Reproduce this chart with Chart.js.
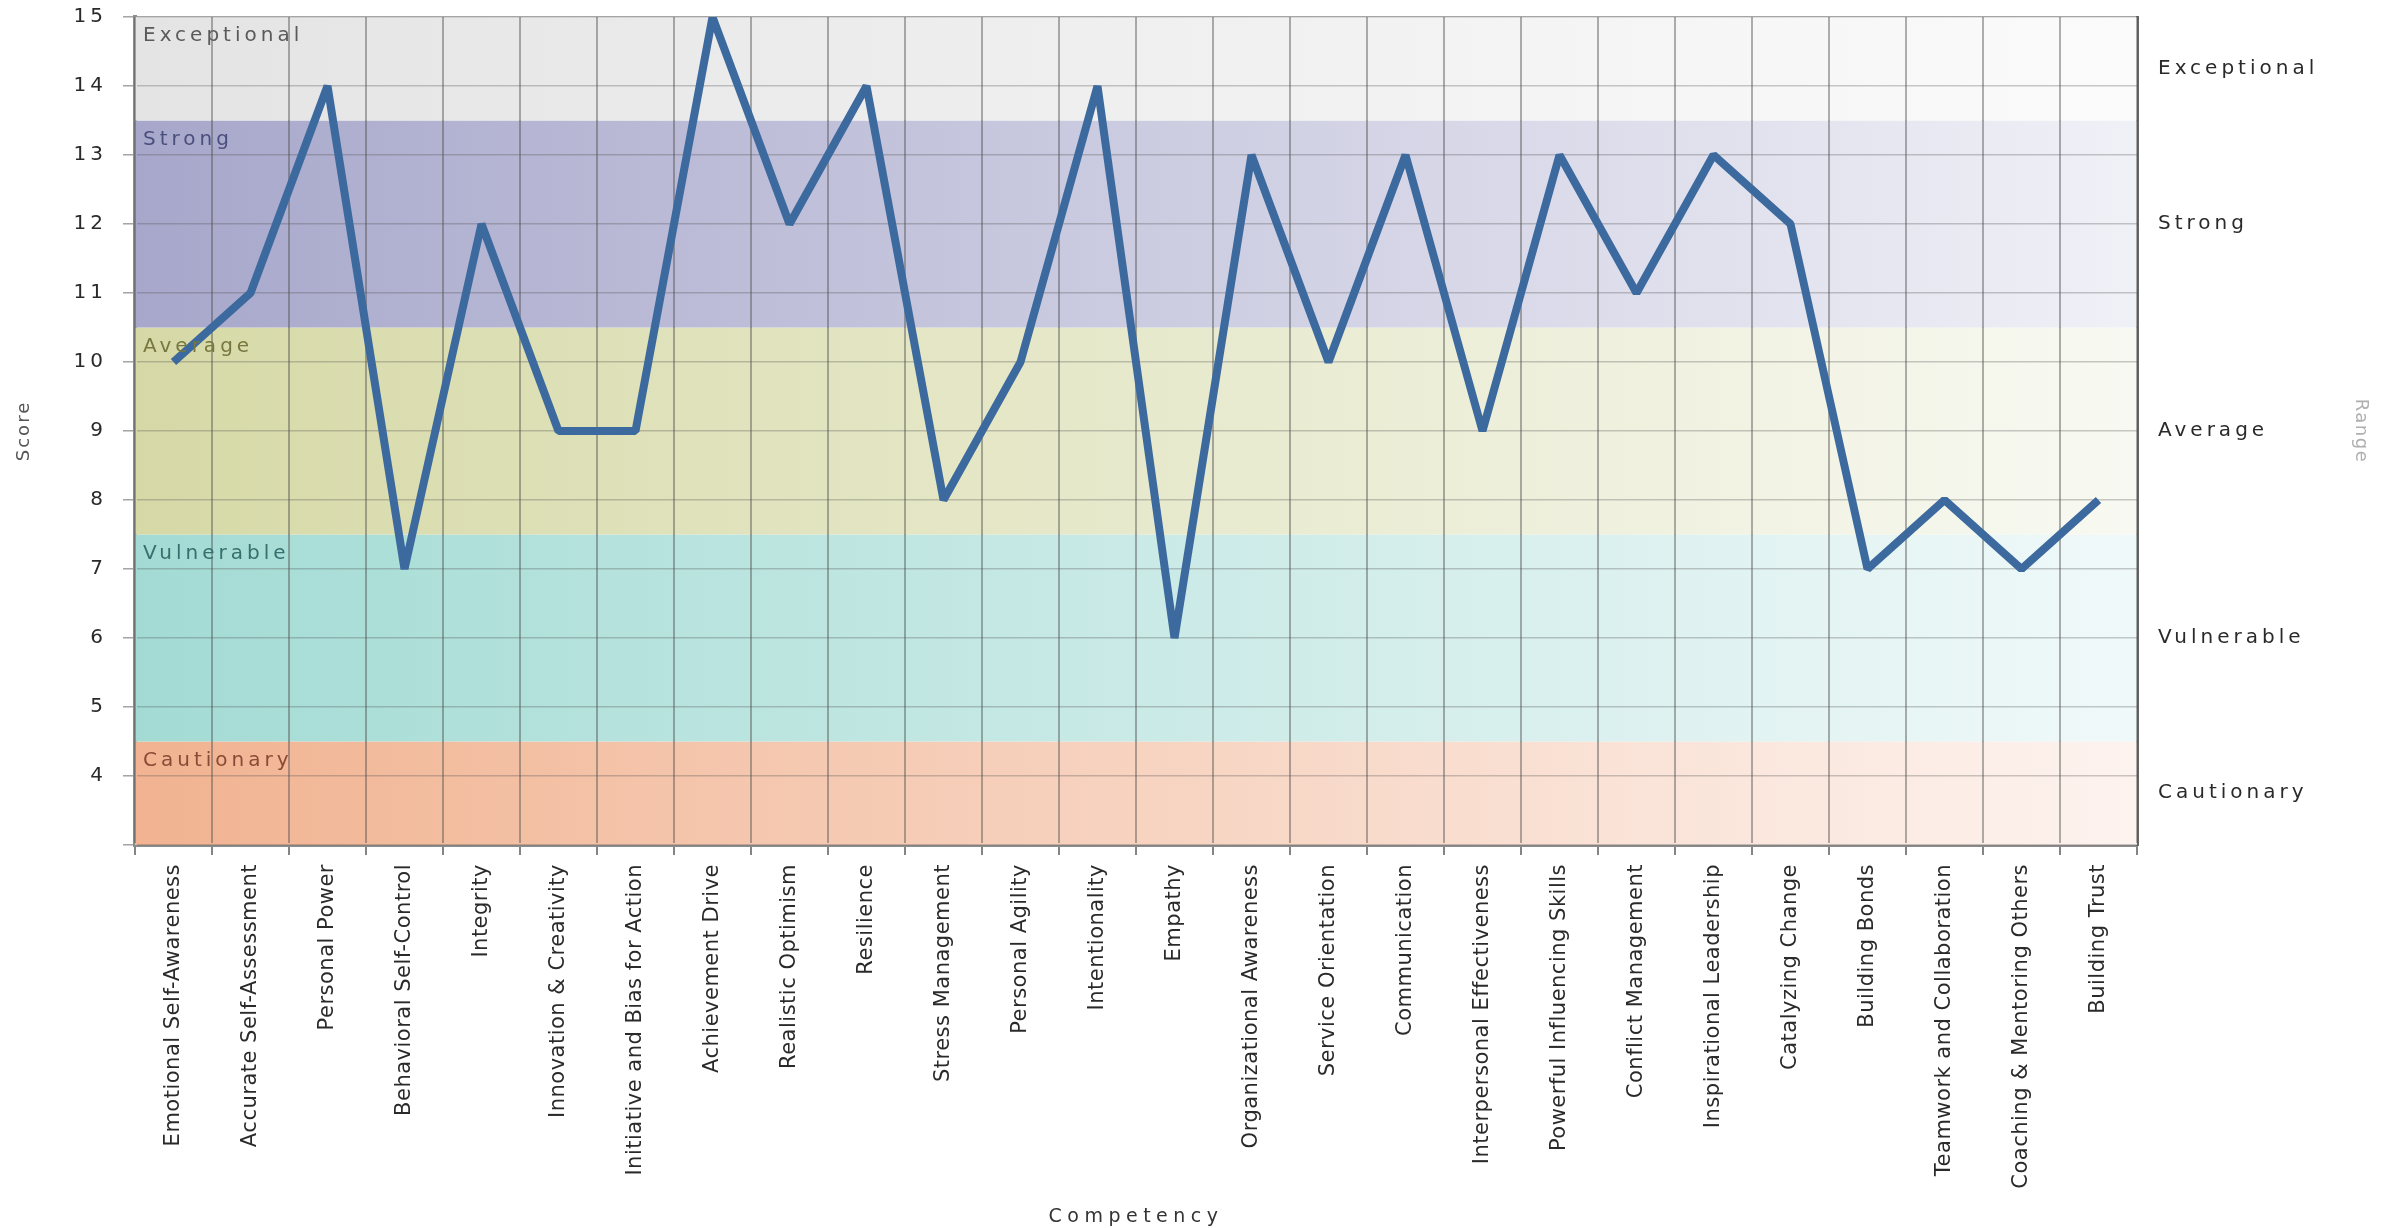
<!DOCTYPE html>
<html>
<head>
<meta charset="utf-8">
<title>Competency Scores</title>
<script src="https://cdn.jsdelivr.net/npm/chart.js@4"></script>
<style>
  html, body { margin: 0; padding: 0; background: #fff; }
  #wrap { width: 2397px; height: 1228px; position: relative; }
</style>
</head>
<body>
<div id="wrap"><canvas id="chart"></canvas></div>
<script>
const competencies = [
  'Emotional Self-Awareness', 'Accurate Self-Assessment', 'Personal Power', 'Behavioral Self-Control',
  'Integrity', 'Innovation & Creativity', 'Initiative and Bias for Action', 'Achievement Drive',
  'Realistic Optimism', 'Resilience', 'Stress Management', 'Personal Agility', 'Intentionality',
  'Empathy', 'Organizational Awareness', 'Service Orientation', 'Communication',
  'Interpersonal Effectiveness', 'Powerful Influencing Skills', 'Conflict Management',
  'Inspirational Leadership', 'Catalyzing Change', 'Building Bonds', 'Teamwork and Collaboration',
  'Coaching & Mentoring Others', 'Building Trust'
];
const scores = [10, 11, 14, 7, 12, 9, 9, 15, 12, 14, 8, 10, 14, 6, 13, 10, 13, 9, 13, 11, 13, 12, 7, 8, 7, 8];

// score ranges, bottom to top
const rangeNames = ['Cautionary', 'Vulnerable', 'Average', 'Strong', 'Exceptional'];
const rangeLows = [3, 4.5, 7.5, 10.5, 13.5];
const rangeHighs = [4.5, 7.5, 10.5, 13.5, 15];
const rangeTicks = [3.75, 6, 9, 12, 14.25];

// styles for the ranges
const bandLeft = ['#f1b391', '#a3dbd4', '#d6d9a6', '#a7a7cb', '#e4e4e4'];
const bandRight = ['#fdf3ef', '#f0f9f9', '#f8f9f2', '#f0f0f7', '#fbfbfb'];
const bandText = ['#8b4a35', '#35706e', '#77773f', '#4b4f7d', '#5a5a5a'];

const font = 'DejaVu Sans, Verdana, sans-serif';

function withSpacing(scale, method, spacing) {
  const orig = scale[method];
  scale[method] = function (...args) {
    const prev = this.ctx.letterSpacing;
    this.ctx.letterSpacing = spacing;
    orig.apply(this, args);
    this.ctx.letterSpacing = prev;
  };
}

// the source image is stretched sideways, wider letter spacing mimics it
const textSpacing = {
  id: 'textSpacing',
  beforeLayout(chart) { chart.ctx.letterSpacing = '4px'; },
  beforeDraw(chart) { chart.ctx.letterSpacing = '4px'; },
  afterLayout(chart) {
    const { x, y, y2 } = chart.scales;
    if (x._spaced) return;
    withSpacing(x, 'drawLabels', '0.5px');
    withSpacing(x, 'drawTitle', '5.5px');
    withSpacing(y, 'drawTitle', '2px');
    withSpacing(y2, 'drawTitle', '1.5px');
    x._spaced = true;
  }
};

const rangeBands = {
  id: 'rangeBands',
  beforeDatasetsDraw(chart) {
    const { ctx, chartArea: a, scales: { y } } = chart;
    ctx.save();
    rangeNames.forEach((name, i) => {
      const top = y.getPixelForValue(rangeHighs[i]);
      const bottom = y.getPixelForValue(rangeLows[i]);
      const g = ctx.createLinearGradient(a.left, 0, a.right, 0);
      g.addColorStop(0, bandLeft[i]);
      g.addColorStop(1, bandRight[i]);
      ctx.fillStyle = g;
      ctx.fillRect(a.left, top, a.right - a.left, bottom - top);
    });
    ctx.restore();
  },
  afterDatasetsDraw(chart) {
    const { ctx, chartArea: a, scales: { y } } = chart;
    ctx.save();
    ctx.font = `20px ${font}`;
    ctx.letterSpacing = '4px';
    ctx.textBaseline = 'middle';
    ctx.textAlign = 'left';
    rangeNames.forEach((name, i) => {
      ctx.fillStyle = bandText[i];
      ctx.fillText(name, a.left + 8, y.getPixelForValue(rangeHighs[i]) + 19);
    });
    ctx.restore();
  }
};

// bands cover the grid, so the grid is drawn again on top of them
const gridOnTop = {
  id: 'gridOnTop',
  beforeDatasetsDraw(chart) {
    const { x, y } = chart.scales;
    x.drawGrid(chart.chartArea);
    y.drawGrid(chart.chartArea);
  }
};

function fixWidth(w) {
  return s => {
    s.width = w;
    s.paddingTop = 0;
    s.paddingBottom = 0;
  };
}

new Chart(document.getElementById('chart'), {
  type: 'line',
  data: {
    labels: competencies,
    datasets: [{
      label: 'Score',
      data: scores,
      borderColor: '#3d6a9e',
      borderWidth: 8,
      pointRadius: 0,
      tension: 0,
      borderJoinStyle: 'bevel'
    }]
  },
  options: {
    responsive: true,
    maintainAspectRatio: false,
    animation: false,
    layout: { padding: { top: 17, left: 0, right: 0, bottom: 0 } },
    plugins: {
      legend: { display: false },
      tooltip: { enabled: false }
    },
    scales: {
      x: {
        offset: true,
        grid: { offset: true, color: 'rgba(80,80,80,0.45)', lineWidth: 2, tickLength: 10 },
        border: { color: '#8c8c8c', width: 4 },
        ticks: {
          autoSkip: false, minRotation: 90, maxRotation: 90, padding: 9,
          color: '#2a2a2a', font: { family: font, size: 21 }
        },
        title: {
          display: true, text: 'Competency', color: '#333',
          font: { family: font, size: 19 }, padding: { top: 0, bottom: 0 }
        },
        afterFit: s => { s.height = 383; }
      },
      y: {
        min: 3, max: 15,
        grid: { color: 'rgba(80,80,80,0.3)', lineWidth: 1.5, tickLength: 12 },
        border: { color: '#8c8c8c', width: 4 },
        ticks: {
          stepSize: 1, padding: 16, color: '#2a2a2a',
          font: { family: font, size: 20 },
          callback: v => (v === 3 ? '' : v)
        },
        title: {
          display: true, text: 'Score', color: '#555',
          font: { family: font, size: 18 }, padding: { top: 14, bottom: 0 }
        },
        afterFit: fixWidth(135)
      },
      y2: {
        position: 'right',
        min: 3, max: 15,
        grid: { display: false, drawTicks: false },
        border: { color: '#666', width: 3 },
        afterBuildTicks: s => { s.ticks = rangeTicks.map(v => ({ value: v })); },
        ticks: {
          padding: 21, color: '#2a2a2a',
          font: { family: font, size: 20 },
          callback: (v, i) => rangeNames[i]
        },
        title: {
          display: true, text: 'Range', color: '#b0b0b0',
          font: { family: font, size: 18 }, padding: { top: 26, bottom: 0 }
        },
        afterFit: fixWidth(260)
      }
    }
  },
  plugins: [textSpacing, rangeBands, gridOnTop]
});
</script>
</body>
</html>
